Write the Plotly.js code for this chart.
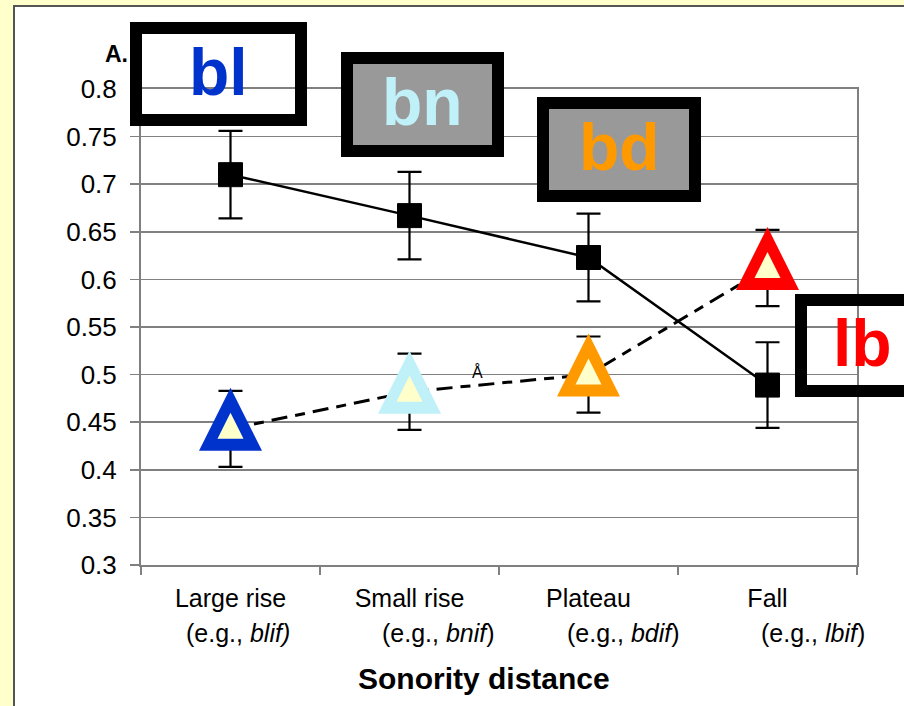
<!DOCTYPE html>
<html><head><meta charset="utf-8">
<script src="https://cdn.plot.ly/plotly-3.0.1.min.js"></script>
<style>html,body{margin:0;padding:0;background:#FFFFCC;overflow:hidden}#chart{width:904px;height:706px}</style>
</head><body><div id="chart"></div>
<script>
// ---- data ----
const categories = ['Large rise', 'Small rise', 'Plateau', 'Fall'];
const exampleLabels = ['(e.g., <i>blif)</i>', '(e.g., <i>bnif</i>)', '(e.g., <i>bdif</i>)', '(e.g., <i>lbif</i>)'];
const clusterLabels = ['bl', 'bn', 'bd', 'lb'];
const squareValues = [0.710, 0.667, 0.623, 0.489];
const squareErrors = [0.046, 0.046, 0.046, 0.045];
const triangleValues = [0.443, 0.482, 0.500, 0.612];
const triangleErrors = [0.040, 0.040, 0.040, 0.040];
const yTickValues = [0.3, 0.35, 0.4, 0.45, 0.5, 0.55, 0.6, 0.65, 0.7, 0.75, 0.8];
const yTickLabels = ['0.3', '0.35', '0.4', '0.45', '0.5', '0.55', '0.6', '0.65', '0.7', '0.75', '0.8'];
const xTitle = 'Sonority distance';
const panelLabel = 'A.';
const strayLabel = 'Å';

// ---- styles / layout geometry ----
const triangleColors = ['#0033CC', '#C0F0F8', '#FF9900', '#FF0000'];
const clusterTextColors = ['#0033CC', '#C0F0F8', '#FF9900', '#FF0000'];
const clusterFills = ['rgba(0,0,0,0)', '#999999', '#999999', 'rgba(0,0,0,0)'];
const clusterBoxes = [[130, 22, 307, 126], [341, 52, 504, 157], [537, 97, 701, 202], [795, 294, 962, 397]];
const clusterTextPos = [[218, 72], [422, 102], [619, 147], [862, 343]];
const exampleShift = [7, 29, 35, 45];
const FONT = 'Liberation Sans, Arial, sans-serif';

const W = 904, H = 706;
const M = {l: 141, r: 47, t: 89, b: 141};
const PW = W - M.l - M.r, PH = H - M.t - M.b;
const px = x => (x - M.l) / PW;
const py = y => (H - M.b - y) / PH;

const xIdx = categories.map((c, i) => i);

const traces = [
  {
    x: categories, y: squareValues, type: 'scatter', mode: 'lines+markers',
    line: {color: '#000', width: 2.5},
    marker: {symbol: 'square', size: 24, color: '#000', line: {color: '#000', width: 1}},
    error_y: {type: 'data', array: squareErrors, visible: true, color: '#000', thickness: 2.2, width: 12},
    cliponaxis: false, showlegend: false
  },
  {
    x: categories, y: triangleValues, type: 'scatter', mode: 'lines+markers',
    line: {color: '#000', width: 3, dash: '16px,8px,10px,8px'},
    marker: {symbol: 'arrow-down', angle: 180, standoff: 41, size: 63, color: triangleColors, line: {width: 0}},
    error_y: {type: 'data', array: triangleErrors, visible: true, color: '#000', thickness: 2.2, width: 12},
    cliponaxis: false, showlegend: false
  },
  {
    x: categories, y: triangleValues, type: 'scatter', mode: 'markers',
    marker: {symbol: 'arrow-down', angle: 180, standoff: 16, size: 26, color: '#FFFFCC', line: {width: 0}},
    hoverinfo: 'skip', cliponaxis: false, showlegend: false
  }
];

const shapes = [
  {type: 'rect', xref: 'paper', yref: 'paper', layer: 'below',
   x0: px(14), x1: px(W + 20), y0: py(H + 20), y1: py(6),
   fillcolor: '#FFFFFF', line: {color: '#555555', width: 2}}
];
clusterBoxes.forEach((b, i) => {
  shapes.push({type: 'rect', xref: 'paper', yref: 'paper', layer: 'above',
    x0: px(b[0] + 6), x1: px(b[2] - 6), y0: py(b[3] - 6), y1: py(b[1] + 6),
    fillcolor: clusterFills[i], line: {color: '#000', width: 12}});
});

const annotations = [];
clusterLabels.forEach((t, i) => {
  annotations.push({text: '<b>' + t + '</b>', xref: 'paper', yref: 'paper',
    x: px(clusterTextPos[i][0]), y: py(clusterTextPos[i][1]), xanchor: 'center', yanchor: 'middle',
    showarrow: false, font: {family: FONT, size: 66, color: clusterTextColors[i]}});
});
exampleLabels.forEach((t, i) => {
  annotations.push({text: t, xref: 'x', yref: 'paper', x: xIdx[i], xshift: exampleShift[i],
    y: py(618), xanchor: 'center', yanchor: 'top', showarrow: false, borderpad: 0,
    font: {family: FONT, size: 25, color: '#000'}});
});
annotations.push({text: '<b>' + panelLabel + '</b>', xref: 'paper', yref: 'paper', x: px(116), y: py(54),
  xanchor: 'center', yanchor: 'middle', showarrow: false, font: {family: FONT, size: 23, color: '#000'}});
annotations.push({text: '<b>' + xTitle + '</b>', xref: 'paper', yref: 'paper', x: px(484), y: py(678),
  xanchor: 'center', yanchor: 'middle', showarrow: false, font: {family: FONT, size: 30, color: '#000'}});
annotations.push({text: strayLabel, xref: 'x', yref: 'y', x: 1.38, y: 0.503,
  xanchor: 'center', yanchor: 'middle', showarrow: false, font: {family: FONT, size: 16, color: '#000'}});

const layout = {
  width: W, height: H, margin: M,
  paper_bgcolor: '#FFFFCC', plot_bgcolor: 'rgba(0,0,0,0)',
  font: {family: FONT, color: '#000'},
  xaxis: {type: 'category', categoryarray: categories, range: [-0.5, 3.5], tickson: 'boundaries',
    ticks: 'outside', ticklen: 8, tickwidth: 1.5, tickcolor: '#808080',
    showline: true, linecolor: '#808080', linewidth: 2, mirror: true, showgrid: false, zeroline: false,
    tickfont: {family: FONT, size: 25, color: '#000'}, ticklabelstandoff: 10},
  yaxis: {range: [0.3, 0.8], tickvals: yTickValues, ticktext: yTickLabels,
    ticks: 'outside', ticklen: 9, tickwidth: 1.5, tickcolor: '#808080',
    showline: true, linecolor: '#808080', linewidth: 2, mirror: true,
    showgrid: true, gridcolor: '#808080', gridwidth: 1.5, zeroline: false,
    tickfont: {family: FONT, size: 26, color: '#000'}, ticklabelstandoff: 8},
  shapes: shapes, annotations: annotations, showlegend: false
};

Plotly.newPlot('chart', traces, layout, {displayModeBar: false, staticPlot: true});
</script></body></html>
